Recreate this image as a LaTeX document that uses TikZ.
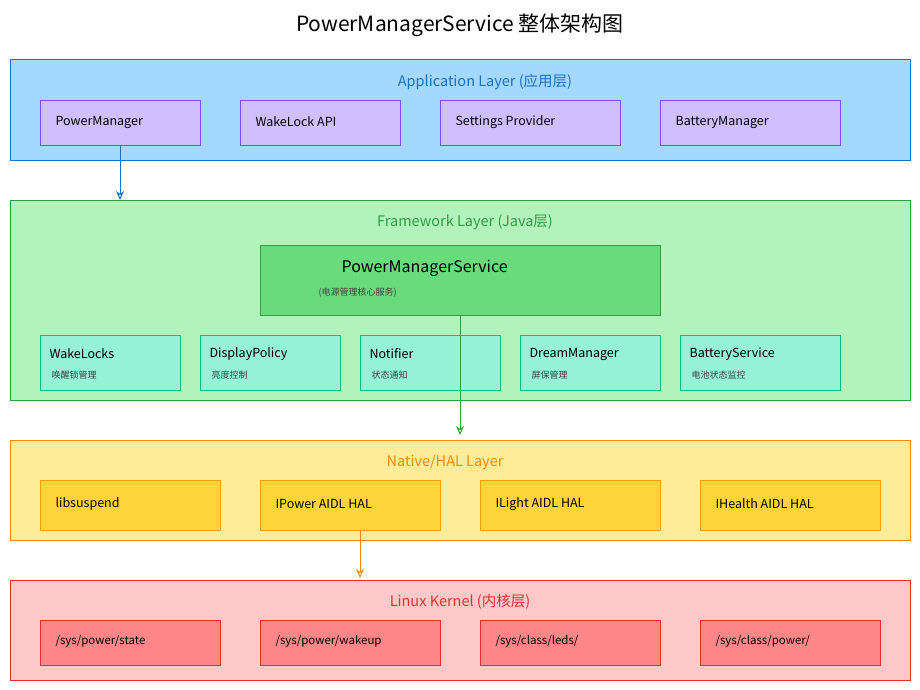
\documentclass[tikz,border=0pt]{standalone}
\usepackage{fontspec}
\setmainfont{Noto Sans CJK SC}
\usetikzlibrary{arrows.meta}
\definecolor{bluefill}{HTML}{A5D8FF}\definecolor{blueline}{HTML}{1971C2}
\definecolor{purpfill}{HTML}{D0BFFF}\definecolor{purpline}{HTML}{7950F2}
\definecolor{grnfill}{HTML}{B2F2BB}\definecolor{grnline}{HTML}{2F9E44}
\definecolor{grnbox}{HTML}{69DB7C}
\definecolor{tealfill}{HTML}{96F2D7}\definecolor{tealline}{HTML}{12B886}
\definecolor{yelfill}{HTML}{FFEC99}\definecolor{orline}{HTML}{F08C00}
\definecolor{yelbox}{HTML}{FFD43B}\definecolor{yelline}{HTML}{F59F00}
\definecolor{redfill}{HTML}{FFC9C9}\definecolor{redline}{HTML}{E03131}
\definecolor{redbox}{HTML}{FF8787}
\begin{document}
\begin{tikzpicture}[x=1pt,y=-1pt,
  layer/.style={draw=#1,line width=1pt},
  lbox/.style={line width=0.8pt},
  lab/.style={font=\fontsize{12.5}{14}\selectfont,anchor=west},
  sub/.style={font=\fontsize{9}{11}\selectfont,anchor=west,text=black!75},
  ltitle/.style={font=\fontsize{14.5}{17}\selectfont,text=#1},
  arr/.style={-{Stealth[length=9pt,width=8pt,open]},line width=1pt,draw=#1}]
\useasboundingbox[fill=white] (0,0) rectangle (920,690);
\node[font=\fontsize{21}{24}\selectfont] (title) at (460,25) {PowerManagerService 整体架构图};
% Application
\draw[layer=blueline,fill=bluefill] (10,60) rectangle (910,160);
\node[ltitle=blueline] (apt) at (485,82) {Application Layer (应用层)};
\foreach \a/\b/\t/\n in {40/200/PowerManager/a1,240/400/WakeLock API/a2,440/620/Settings Provider/a3,660/840/BatteryManager/a4}{
  \draw[lbox,draw=purpline,fill=purpfill] (\a,100) rectangle (\b,145);
  \node[lab] (\n) at (\a+12,122) {\t};}
\coordinate (a1b) at (120,145);
\coordinate (fwt) at (120,200);
\draw[arr=blueline] (a1b) -- (fwt);
% Framework
\draw[layer=grnline,fill=grnfill] (10,200) rectangle (910,400);
\node[ltitle=grnline] (fwtitle) at (465,222) {Framework Layer (Java层)};
\draw[lbox,draw=grnline,fill=grnbox] (260,245) rectangle (660,315);
\node[font=\fontsize{16}{18}\selectfont,anchor=west] (pms) at (338,268) {PowerManagerService};
\node[sub] (pmss) at (315,293) {(电源管理核心服务)};
\foreach \a/\b/\t/\s/\n in {40/180/WakeLocks/唤醒锁管理/f1,200/340/DisplayPolicy/亮度控制/f2,360/500/Notifier/状态通知/f3,520/660/DreamManager/屏保管理/f4,680/840/BatteryService/电池状态监控/f5}{
  \draw[lbox,draw=tealline,fill=tealfill] (\a,335) rectangle (\b,390);
  \node[lab] (\n) at (\a+6,354) {\t};
  \node[sub] (\n s) at (\a+8,375) {\s};}
\coordinate (pmsb) at (460,315);
\coordinate (nt) at (460,435);
\draw[arr=grnline] (pmsb) -- (nt);
% Native
\draw[layer=orline,fill=yelfill] (10,440) rectangle (910,540);
\node[ltitle=orline] (ntitle) at (445,462) {Native/HAL Layer};
\foreach \a/\b/\t/\n in {40/220/libsuspend/n1,260/440/IPower AIDL HAL/n2,480/660/ILight AIDL HAL/n3,700/880/IHealth AIDL HAL/n4}{
  \draw[lbox,draw=yelline,fill=yelbox] (\a,480) rectangle (\b,530);
  \node[lab] (\n) at (\a+12,504) {\t};}
\coordinate (n2b) at (360,530);
\coordinate (kt) at (360,578);
\draw[arr=orline] (n2b) -- (kt);
% Kernel
\draw[layer=redline,fill=redfill] (10,580) rectangle (910,680);
\node[ltitle=redline] (ktitle) at (460,602) {Linux Kernel (内核层)};
\foreach \a/\b/\t/\n in {40/220/{/sys/power/state}/k1,260/440/{/sys/power/wakeup}/k2,480/660/{/sys/class/leds/}/k3,700/880/{/sys/class/power/}/k4}{
  \draw[lbox,draw=redline,fill=redbox] (\a,620) rectangle (\b,665);
  \node[lab,font=\fontsize{11.5}{13}\selectfont] (\n) at (\a+12,641) {\t};}
\end{tikzpicture}
\end{document}
